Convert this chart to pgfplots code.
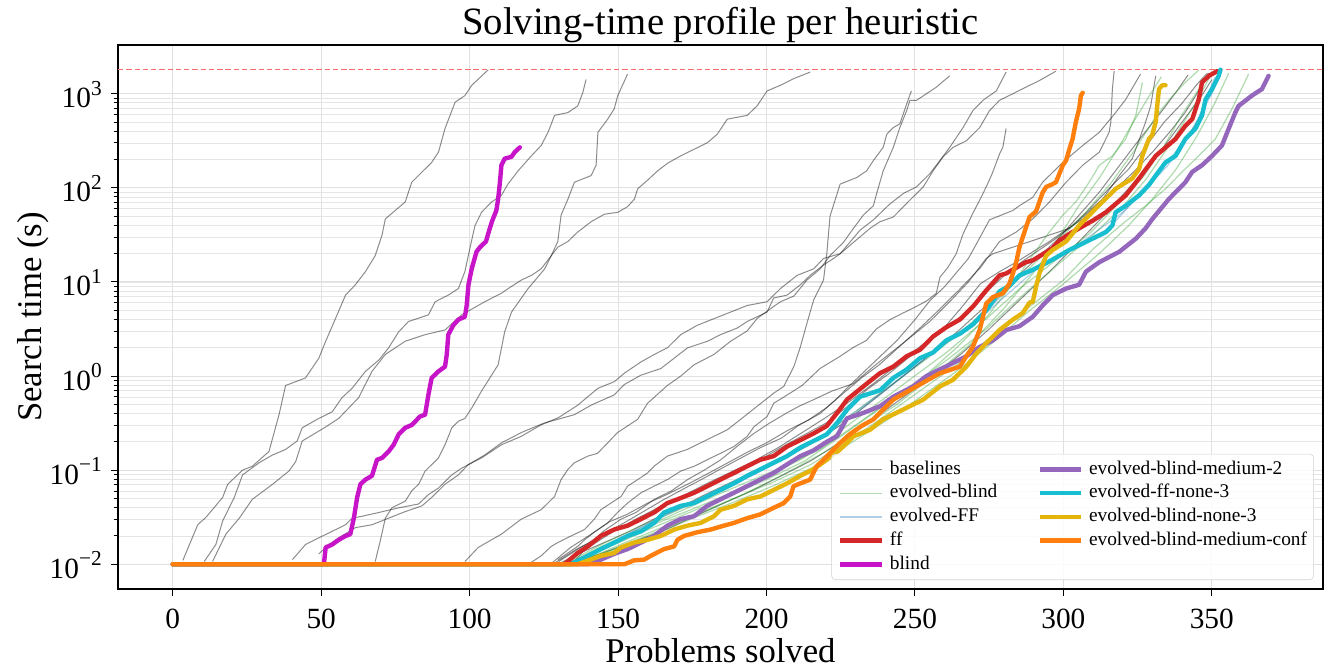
\documentclass[border=0pt]{standalone}
\usepackage{pgfplots}
\pgfplotsset{compat=1.18}
\usepackage{fontspec}
\setmainfont{Liberation Serif}
\definecolor{tabred}{HTML}{D62728}
\definecolor{tabgreen}{HTML}{2CA02C}
\definecolor{tabblue}{HTML}{1F77B4}
\definecolor{tabpurple}{HTML}{9467BD}
\definecolor{tabcyan}{HTML}{17BECF}
\definecolor{taborange}{HTML}{FF7F0E}
\definecolor{gold}{HTML}{E5B50C}
\definecolor{magentab}{HTML}{C814C8}
\definecolor{timeoutred}{RGB}{250,108,108}
\newcommand\sexp[1]{\raisebox{0.42em}{\fontsize{16pt}{16pt}\selectfont #1}}
\pgfplotsset{
 base/.style={forget plot, black, opacity=0.45, line width=0.75pt, line join=round},
 evb/.style={forget plot, tabgreen, opacity=0.38, line width=0.9pt, line join=round},
 evf/.style={forget plot, tabblue, opacity=0.35, line width=0.9pt, line join=round},
 thk/.style={forget plot, line width=3.3pt, line join=round, line cap=round},
}
\begin{document}
\begin{tikzpicture}
\path[use as bounding box] (-88.5pt,-60.75pt) rectangle (907.5pt,441.75pt);
\begin{axis}[
 at={(0pt,0pt)}, anchor=south west, scale only axis,
 width=903.75pt, height=408pt,
 xmin=-18.45, xmax=387.45, ymode=log, ymin=0.005461, ymax=3296,
 xtick={0,50,100,150,200,250,300,350},
 ytick={0.01,0.1,1,10,100,1000},
 yticklabels={10\sexp{−2},10\sexp{−1},10\sexp{0},10\sexp{1},10\sexp{2},10\sexp{3}},
 tick align=outside, tick pos=left,
 major tick length=5pt, minor tick length=3pt,
 every tick/.style={black, line width=0.7pt},
 grid=both,
 major grid style={gray!24, line width=0.7pt},
 minor grid style={gray!20, line width=0.6pt},
 axis line style={line width=0.9pt},
 tick label style={font=\fontsize{22pt}{22pt}\selectfont},
 /pgf/number format/assume math mode=true,
 xticklabel style={anchor=base, yshift=-24.75pt},
 yticklabel style={anchor=base east, inner sep=0pt, xshift=-7pt, yshift=-10.5pt},
 every axis title/.style={at={(axis description cs:0.5,1)}, anchor=base, yshift=7.5pt, font=\fontsize{29pt}{29pt}\selectfont},
 every axis x label/.style={at={(axis description cs:0.5,-0.1342)}, anchor=base, font=\fontsize{26pt}{26pt}\selectfont},
 every axis y label/.style={at={(axis description cs:-0.0631,0.5)}, rotate=90, anchor=base, font=\fontsize{26pt}{26pt}\selectfont},
 title={Solving-time profile per heuristic},
 xlabel={Problems solved},
 ylabel={Search time (s)},
 legend columns=2, legend cell align=left,
 legend image code/.code={\draw[#1] (0pt,0pt) -- (31pt,0pt);},
 legend style={at={(axis description cs:0.9925,0.0165)}, anchor=south east,
   draw=gray!35, rounded corners=3pt, fill=white, fill opacity=0.85, text opacity=1,
   font=\fontsize{14.5pt}{14.5pt}\selectfont, inner xsep=5pt, inner ysep=4pt,
   row sep=2.8pt,
   nodes={inner xsep=0pt, inner ysep=1pt, text height=10pt, text depth=3pt},
   /tikz/every odd column/.append style={column sep=4.5pt},
   /tikz/every even column/.append style={column sep=30pt}},
]
% ---------------- timeout line (drawn first, under the curves) ----------------
\addplot[forget plot, draw=timeoutred, mark=none, line width=1.1pt, dash pattern=on 4pt off 2.2pt] coordinates {(-18.45,1800) (387.45,1800)};
% ---------------- baselines ----------------
\addplot[base] coordinates {(3.4,0.0110) (8.4,0.0263) (11.2,0.0316) (16.8,0.0513) (18.5,0.0708) (23.5,0.100) (26.8,0.110) (32.4,0.158) (35.8,0.389) (38.0,0.794) (44.7,0.955) (49.2,1.549) (51.5,2.344) (54.8,4.074) (58.2,7.244) (61.5,9.333) (64.9,12.88) (68.2,19.05) (70.5,31.62) (71.6,46.77) (78.3,70.79) (80.5,114.8) (87.2,186.2) (89.5,239.9) (91.7,426.6) (95.1,812.8) (98.4,955) (100.7,1230) (106.3,1800)};
\addplot[base] coordinates {(10.6,0.0107) (14.5,0.0162) (16.8,0.0288) (20.7,0.0513) (23.5,0.0891) (29.1,0.120) (33.6,0.145) (38.0,0.166) (41.9,0.204) (43.6,0.282) (49.2,0.355) (53.7,0.417) (57.0,0.589) (60.4,0.741) (64.9,1.122) (69.4,1.479) (72.7,1.995) (76.1,2.951) (79.4,3.802) (86.1,4.467) (88.4,6.166) (92.8,7.244) (96.2,8.511) (98.4,12.88) (100.1,22.91) (101.8,39.81) (104.0,54.95) (107.4,70.79) (110.7,83.18) (112.9,109.6) (116.3,151.4) (120.8,218.8) (124.1,281.8) (126.4,389.0) (128.6,588.8) (133.1,631.0) (136.4,741.3) (138.1,1023) (139.2,1413)};
\addplot[base] coordinates {(13.4,0.0107) (15.7,0.0151) (17.9,0.0209) (22.4,0.0309) (26.8,0.0490) (33.6,0.0708) (39.1,0.0977) (41.4,0.123) (43.6,0.204) (51.5,0.288) (55.9,0.355) (62.6,0.589) (67.1,1.122) (71.6,1.698) (78.3,2.344) (85.0,2.754) (91.7,3.090) (97.3,4.467) (105.1,6.166) (110.7,7.586) (113.0,8.511) (117.4,10.47) (120.8,11.75) (124.1,13.80) (127.5,19.05) (129.7,23.44) (133.1,26.92) (136.4,33.88) (140.9,43.65) (145.4,52.48) (149.9,54.95) (153.2,63.10) (155.5,75.86) (156.6,97.72) (159.9,120.2) (163.3,151.4) (166.6,182.0) (171.1,218.8) (175.6,257.0) (180.1,302.0) (183.4,371.5) (186.8,537.0) (190.1,562.3) (193.5,588.8) (196.8,741.3) (200.2,1072) (204.7,1230) (209.1,1445) (214.7,1698)};
\addplot[base] coordinates {(68.2,0.0107) (69.9,0.0178) (71.6,0.0309) (73.8,0.0398) (78.3,0.0468) (80.5,0.0603) (82.8,0.0708) (85.0,0.0977) (89.5,0.135) (91.7,0.186) (94.0,0.282) (96.2,0.331) (98.4,0.355) (100.7,0.457) (104.0,0.692) (107.4,1.023) (109.6,1.318) (111.8,2.951) (114.1,4.786) (119.7,8.511) (125.3,13.80) (127.5,19.05) (129.7,26.92) (130.8,51.29) (133.1,75.86) (135.3,114.8) (140.9,134.9) (142.6,173.8) (143.2,389.0) (146.5,537.0) (148.7,691.8) (149.9,955) (153.2,1622)};
\addplot[base] coordinates {(40.3,0.0112) (44.7,0.0162) (49.2,0.0191) (53.7,0.0224) (58.2,0.0263) (60.4,0.0309) (63.8,0.0324) (69.4,0.0355) (76.1,0.0398) (82.8,0.0437) (86.1,0.0550) (89.5,0.0646) (94.0,0.0891) (97.3,0.105) (104.0,0.135) (110.7,0.186) (117.4,0.229) (124,0.302) (130,0.363) (136.4,0.490) (143.2,0.741) (148.7,0.871) (152.1,1.072) (157.7,1.413) (162.2,1.698) (166.6,1.995) (171.1,2.754) (176.7,3.467) (182.3,4.074) (187.9,4.786) (193.5,5.623) (200.2,6.166) (204.7,8.511) (210.3,11.75) (215.9,13.80) (219.2,17.78) (224.8,19.95) (230.4,28.18) (234.9,37.15) (238.2,43.65) (242.7,48.98) (248.3,74.13) (252.8,102.3) (256.1,151.4) (259.5,213.8) (262.8,269.2) (267.3,316.2) (271.8,436.5) (275.1,660.7) (278.5,851.1) (283.0,1000) (287.4,1175) (291.9,1380) (297.5,1738)};
\addplot[base] coordinates {(49.2,0.0129) (52.6,0.0162) (55.9,0.0191) (61.5,0.0245) (67.1,0.0263) (72.7,0.0309) (78.3,0.0363) (83.9,0.0417) (87.2,0.0513) (91.7,0.0708) (96.2,0.0891) (99.6,0.115) (105.1,0.145) (110.7,0.195) (117.4,0.251) (125,0.316) (135.3,0.389) (140.9,0.490) (148.7,0.631) (152.1,0.813) (157.7,1.023) (164.4,1.202) (168.9,1.549) (173.4,1.995) (180.1,2.344) (184.5,2.754) (190.1,3.236) (193.5,3.802) (200.2,4.786) (202.4,6.761) (206.9,7.244) (211.4,9.333) (214.7,11.75) (219.2,15.14) (222.6,17.78) (224.8,19.95) (231.5,35.48) (236.0,45.71) (241.6,67.61) (246.1,87.10) (250.5,102.3) (255.0,141.3) (258.4,195.0) (261.7,269.2) (266.2,436.5) (269.5,660.7) (272.9,851.1) (277.4,1072) (280.7,1698)};
\addplot[base] coordinates {(98.4,0.0107) (102.9,0.0151) (110.7,0.0209) (117.4,0.0302) (124.1,0.0380) (128.6,0.0525) (130.8,0.0794) (133.1,0.102) (135.3,0.120) (139.8,0.141) (143.1,0.151) (146.5,0.195) (149.8,0.251) (153.2,0.295) (156.6,0.347) (159.9,0.513) (166.6,0.794) (171.1,1.000) (175.6,1.318) (182.3,1.698) (187.9,2.344) (193.5,3.020) (196.8,4.074) (200.2,4.898) (204.7,6.166) (209.2,7.079) (213.6,10.47) (218.1,13.80) (221.4,19.05) (225.9,26.30) (229.3,37.15) (232.6,51.29) (236.0,64.57) (237.1,87.10) (239.3,151.4) (242.7,269.2) (244.9,436.5) (247.2,660.7) (248.3,851.1) (250.5,851.1) (253.9,1000) (257.2,1175) (261.7,1549)};
\addplot[base] coordinates {(120.8,0.0105) (124.1,0.0123) (127.5,0.0155) (129.7,0.0170) (134.2,0.0200) (138.7,0.0234) (142.0,0.0302) (144.2,0.0380) (147.6,0.0447) (151.0,0.0525) (153.2,0.0676) (156.6,0.0794) (159.9,0.0933) (162.1,0.110) (166.6,0.141) (173.3,0.166) (177.8,0.195) (182.3,0.229) (186.8,0.269) (191.3,0.347) (195.7,0.447) (202.5,0.661) (205.8,0.776) (209.2,1.259) (211.4,2.042) (213.6,3.631) (215.9,6.457) (219.2,10.47) (220.3,19.95) (221.4,50.12) (224.8,109.6) (230.4,128.8) (233.7,151.4) (236.0,195.0) (239.3,269.2) (240.5,371.5) (242.7,436.5) (244.9,478.6) (247.2,776.2) (248.8,1072)};
\addplot[base] coordinates {(129.7,0.0112) (133.1,0.0132) (136.4,0.0155) (138.7,0.0182) (142.0,0.0219) (146.5,0.0275) (149.8,0.0355) (153.2,0.0447) (157.7,0.0575) (162.1,0.0676) (166.6,0.0794) (171.1,0.0977) (175.6,0.110) (180.0,0.129) (184.5,0.151) (189.0,0.178) (193.5,0.229) (195.7,0.288) (200.2,0.372) (202.4,0.513) (206,0.603) (212,0.794) (218,1.202) (224.8,1.622) (229,1.995) (233.7,2.399) (237,3.162) (241.6,3.981) (246,4.677) (250.5,5.495) (254,6.310) (257.2,7.586) (258.4,11.22) (261,14.13) (263.9,19.95) (266.2,32.36) (269.5,53.70) (271.5,70.79) (274.0,102.3) (276,141.3) (278.5,229.1) (279.6,269.2) (280.7,426.6)};
\addplot[base] coordinates {(135,0.0105) (140,0.0158) (145,0.0224) (151,0.0302) (156,0.0355) (162.2,0.0490) (168,0.0603) (173.4,0.0794) (179,0.100) (184.6,0.129) (190,0.178) (195.7,0.245) (201,0.316) (206.9,0.407) (211,0.479) (215.9,0.562) (222,0.692) (229.3,0.832) (236,1.259) (242,1.778) (248,2.512) (255,3.802) (262,6.310) (268,10.0) (274,17.78) (276.3,19.95) (283,23.44) (289.7,27.54) (296.4,32.36) (302,37.15) (308,56.23) (315,95.50) (322,158.5) (328,281.8) (334,501.2) (340,794.3) (345,1259) (348.5,1660)};
\addplot[base] coordinates {(128,0.0105) (134,0.0151) (140,0.0200) (147,0.0282) (153,0.0339) (160,0.0447) (167,0.0562) (174,0.0724) (180,0.0912) (187,0.120) (194,0.158) (200,0.195) (207,0.263) (214,0.339) (220,0.457) (226,0.661) (232,0.955) (238,1.318) (245,2.089) (252,3.311) (258,5.012) (265,8.318) (272,14.13) (278.5,26.92) (284.1,33.88) (289.7,46.77) (295.3,70.79) (300.9,114.8) (306.5,173.8) (312.1,239.9) (315.4,389.0) (316.0,501.2) (316.5,1122) (317.1,1738)};
\addplot[base] coordinates {(130,0.0107) (137,0.0148) (145,0.0209) (152,0.0275) (158,0.0355) (165,0.0479) (172,0.0631) (178,0.0794) (185,0.105) (192,0.138) (198,0.174) (205,0.219) (211,0.302) (218,0.398) (223,0.550) (228,0.794) (233,1.122) (238,1.585) (244,2.399) (250,3.981) (255,6.310) (260,8.913) (264,12.59) (268,17.78) (271.5,28.18) (275.1,45.71) (283.0,57.54) (285.2,64.57) (289.7,79.43) (293.0,114.8) (299.8,186.2) (306.5,281.8) (312.1,389.0) (317.6,631.0) (321.0,871.0) (326.0,1622)};
\addplot[base] coordinates {(133,0.0107) (140,0.0151) (148,0.0219) (156,0.0302) (164,0.0407) (172,0.0537) (180,0.0724) (188,0.0955) (196,0.126) (204,0.174) (212,0.251) (220,0.363) (228,0.537) (236,0.832) (244,1.318) (252,2.089) (260,3.311) (266,5.495) (272,9.550) (278.5,12.88) (284.1,16.22) (289.7,20.89) (295.3,26.92) (299.8,33.88) (306.5,46.77) (313.2,75.86) (318.8,134.9) (323.2,204.2) (327.7,501.2) (329.4,741.3) (331.1,1549)};
\addplot[base] coordinates {(129,0.0105) (136,0.0145) (143,0.0186) (150,0.0240) (157,0.0302) (164,0.0389) (171,0.0513) (178,0.0631) (185,0.0832) (192,0.105) (199,0.135) (206,0.182) (213,0.240) (220,0.316) (227,0.468) (234,0.724) (241,1.047) (248,1.585) (255,2.399) (262,3.548) (269,5.248) (276,8.913) (283,14.13) (290,19.95) (297,28.18) (304,41.69) (311,66.07) (318,100.0) (324,151.4) (330,239.9) (336,398.1) (341,631.0) (345,1000) (349,1660)};
\addplot[base] coordinates {(131,0.0105) (138,0.0135) (146,0.0174) (154,0.0224) (162,0.0302) (170,0.0389) (178,0.0525) (186,0.0692) (194,0.0912) (202,0.120) (210,0.158) (218,0.219) (226,0.316) (234,0.501) (242,0.794) (250,1.259) (258,1.995) (266,3.311) (274,5.623) (282,9.550) (290,16.60) (298,28.18) (305,50.12) (312,89.13) (318,158.5) (324,281.8) (329,446.7) (334,707.9) (338,1047) (342,1585)};
\addplot[base] coordinates {(135,0.0105) (145,0.0132) (155,0.0174) (165,0.0224) (175,0.0316) (185,0.0437) (195,0.0603) (205,0.0871) (215,0.126) (225,0.200) (235,0.331) (245,0.562) (255,0.955) (265,1.660) (275,3.162) (285,6.310) (295,12.59) (305,26.30) (315,56.23) (325,125.9) (333,251.2) (340,501.2) (346,891.3) (350,1413)};
% ---------------- evolved-blind ----------------
\addplot[evb] coordinates {(134,0.0105) (145,0.0158) (158,0.0240) (170,0.0355) (182,0.0525) (194,0.0759) (206,0.110) (218,0.166) (230,0.302) (242,0.562) (254,1.047) (264,1.995) (274,4.169) (283,9.550) (290,19.95) (295,33.11) (299.8,51.29) (304.2,70.79) (308.7,114.8) (312.1,173.8) (316.5,218.8) (321.0,331.1) (324.4,588.8) (326.6,1318)};
\addplot[evb] coordinates {(137,0.0105) (150,0.0158) (163,0.0234) (176,0.0339) (189,0.0501) (202,0.0741) (215,0.115) (228,0.209) (240,0.380) (252,0.708) (264,1.318) (276,2.630) (288,5.248) (300,10.47) (310,22.39) (320,41.69) (327.7,64.57) (334.4,97.72) (340.0,147.9) (345.6,218.8) (351.2,331.1) (356.8,691.8) (362.4,1622)};
\addplot[evb] coordinates {(133,0.0105) (145,0.0166) (157,0.0251) (169,0.0363) (181,0.0550) (193,0.0832) (205,0.126) (217,0.209) (229,0.398) (241,0.759) (253,1.445) (265,2.818) (277,6.310) (287,12.59) (297,25.12) (307,52.48) (316,112.2) (324,251.2) (331,562.3) (336,891.3) (341,1318) (345.6,1778)};
\addplot[evb] coordinates {(135,0.0105) (148,0.0158) (161,0.0240) (174,0.0355) (187,0.0525) (200,0.0794) (213,0.126) (226,0.240) (238,0.447) (250,0.832) (262,1.585) (274,3.162) (286,7.079) (298,15.14) (310,31.62) (320,63.10) (328,125.9) (335,263.0) (341,524.8) (346,955) (350,1660)};
\addplot[evb] coordinates {(137,0.0105) (150,0.0148) (163,0.0214) (176,0.0316) (189,0.0457) (202,0.0676) (215,0.105) (228,0.191) (240,0.331) (252,0.603) (264,1.122) (276,2.239) (288,4.786) (300,9.550) (312,19.95) (322,39.81) (330,75.86) (338,158.5) (345,354.8) (351,794.3) (355.7,1660)};
\addplot[evb] coordinates {(134,0.0105) (147,0.0162) (160,0.0251) (173,0.0363) (186,0.0537) (199,0.0832) (212,0.132) (225,0.263) (237,0.501) (249,0.955) (261,1.820) (273,3.802) (285,8.318) (297,16.60) (309,33.11) (319,70.79) (327,131.8) (334,281.8) (340,602.6) (345,1047) (349,1585)};
\addplot[evb] coordinates {(136,0.0105) (150,0.0151) (164,0.0229) (178,0.0347) (192,0.0550) (206,0.0912) (220,0.158) (232,0.282) (244,0.501) (256,1.000) (268,2.089) (280,5.248) (290,12.59) (298,28.18) (305,63.10) (312,125.9) (318,251.2) (324,524.8) (329,955) (333,1514)};
% ---------------- evolved-FF ----------------
\addplot[evf] coordinates {(134,0.0105) (150,0.0182) (165,0.0331) (180,0.0525) (195,0.0891) (210,0.158) (225,0.300) (240,0.700) (255,1.700) (270,3.600) (285,11.0) (300,20.0) (315,36.0) (330,120) (342,350) (350,1000) (353,1700)};
\addplot[evf] coordinates {(135,0.0105) (152,0.0200) (168,0.0355) (185,0.0600) (200,0.105) (215,0.190) (230,0.420) (245,0.950) (260,2.20) (275,5.00) (290,13.0) (305,25.0) (320,55.0) (335,170) (345,500) (351,1500)};
% ---------------- ff ----------------
\addplot[thk, tabred] coordinates {(0,0.01) (131.9,0.01) (136.4,0.0132) (139.8,0.0155) (144.2,0.0200) (148.7,0.0234) (153.2,0.0257) (157.7,0.0302) (162.1,0.0355) (166.6,0.0447) (170.0,0.0490) (175.6,0.0575) (180.1,0.0676) (184.5,0.0794) (189.0,0.0933) (193.5,0.110) (197.9,0.129) (202.4,0.141) (206.9,0.178) (211.4,0.209) (215.8,0.245) (220.3,0.295) (224.8,0.447) (227.1,0.562) (233.8,0.832) (238.2,1.072) (242.7,1.259) (247.2,1.622) (251.7,1.905) (256.1,2.630) (260.6,3.311) (265.1,3.981) (269.6,5.495) (274.0,8.128) (278.5,11.75) (280.7,12.30) (287.4,16.22) (289.7,16.98) (296.4,22.91) (298.6,27.54) (302.0,32.36) (305.3,37.15) (309.8,44.67) (314.3,54.95) (321.0,83.18) (325.5,125.9) (331.1,218.8) (337.8,331.1) (341.1,457.1) (343.4,537.0) (345.6,871.0) (346.7,1318) (349.0,1549) (351.8,1738)};
% ---------------- blind ----------------
\addplot[thk, magentab] coordinates {(0,0.01) (50.9,0.01) (51.5,0.0151) (53.7,0.0162) (55.9,0.0182) (58.2,0.0200) (59.8,0.0209) (61.0,0.0309) (62.1,0.0513) (63.2,0.0708) (64.9,0.0794) (67.1,0.0871) (68.8,0.129) (70.5,0.135) (72.7,0.158) (74.4,0.186) (76.1,0.240) (78.3,0.282) (80.5,0.302) (83.3,0.372) (85.0,0.389) (86.1,0.631) (87.2,0.955) (89.5,1.122) (91.7,1.259) (92.3,1.698) (92.8,2.754) (94.5,3.467) (96.2,3.981) (98.4,4.266) (99.0,5.623) (99.6,9.333) (100.7,13.80) (102.3,20.89) (103.5,23.44) (105.5,26.92) (106.6,35.48) (107.6,44.67) (109.0,57.54) (109.6,75.86) (110.2,114.8) (110.7,173.8) (111.8,204.2) (114.1,213.8) (115.2,239.9) (116.9,269.2)};
% ---------------- evolved-blind-medium-2 ----------------
\addplot[thk, tabpurple] coordinates {(0,0.01) (139.8,0.01) (144.2,0.0112) (148.7,0.0129) (153.2,0.0145) (157.7,0.0170) (162.1,0.0200) (166.6,0.0257) (171.1,0.0302) (175.6,0.0324) (180.0,0.0417) (184.5,0.0490) (189.0,0.0575) (193.5,0.0676) (197.9,0.0794) (202.4,0.0933) (206.9,0.115) (211.4,0.141) (215.8,0.162) (220.3,0.200) (223.7,0.229) (227.1,0.355) (232.7,0.407) (238.3,0.479) (242.7,0.603) (249.4,0.776) (253.9,1.000) (258.4,1.175) (262.9,1.380) (267.3,1.622) (271.8,2.042) (276.3,2.399) (280.8,3.090) (285.2,3.388) (289.7,4.266) (293.0,5.623) (296.4,7.244) (300.9,8.511) (305.3,9.333) (307.6,12.88) (312.1,16.22) (318.8,20.89) (324.4,28.84) (327.7,37.15) (330.0,46.77) (335.5,75.86) (341.1,114.8) (343.4,147.9) (346.7,173.8) (350.1,218.8) (353.4,281.8) (355.7,426.6) (357.9,631.0) (359.0,741.3) (363.5,955) (366.9,1122) (369.1,1549)};
% ---------------- evolved-ff-none-3 ----------------
\addplot[thk, tabcyan] coordinates {(0,0.01) (134.2,0.01) (139.8,0.0123) (144.2,0.0145) (148.7,0.0170) (153.2,0.0200) (157.7,0.0224) (162.1,0.0275) (165.5,0.0355) (171.1,0.0417) (175.6,0.0447) (180.0,0.0525) (184.5,0.0617) (189.0,0.0724) (193.5,0.0871) (197.9,0.102) (202.4,0.120) (206.9,0.141) (211.4,0.174) (215.8,0.204) (220.3,0.240) (223.7,0.316) (227.1,0.437) (231.5,0.603) (238.3,0.708) (242.7,0.955) (247.2,1.175) (251.7,1.549) (256.1,1.778) (260.6,2.399) (265.1,2.818) (269.6,3.548) (274.1,5.012) (278.5,7.943) (281.9,9.120) (285.2,11.75) (289.7,13.49) (294.2,15.85) (298.7,19.05) (302.0,21.88) (305.3,24.55) (309.8,28.84) (314.3,33.88) (316.5,39.81) (317.6,54.95) (321.0,64.57) (325.5,83.18) (328.8,107.2) (331.1,134.9) (334.4,186.2) (337.8,218.8) (341.1,331.1) (344.5,426.6) (346.7,588.8) (347.9,871.0) (350.1,1122) (352.3,1549) (352.9,1800)};
% ---------------- evolved-blind-none-3 ----------------
\addplot[thk, gold] coordinates {(0,0.01) (136.4,0.01) (144.2,0.0123) (148.7,0.0132) (151.0,0.0151) (155.4,0.0170) (159.9,0.0182) (164.4,0.0200) (168.9,0.0234) (173.3,0.0257) (177.8,0.0275) (182.3,0.0324) (184.5,0.0380) (189.0,0.0417) (193.5,0.0490) (197.9,0.0525) (202.4,0.0617) (206.9,0.0724) (211.4,0.0871) (215.8,0.102) (220.3,0.129) (224.8,0.166) (229.3,0.229) (234.9,0.269) (239.3,0.347) (243.8,0.407) (248.3,0.479) (252.8,0.562) (258.4,0.776) (262.8,0.912) (267.3,1.259) (270.7,1.738) (274.0,2.239) (278.5,3.090) (283.0,3.981) (286.3,4.677) (288.6,6.026) (289.7,6.166) (290.8,8.913) (292.0,12.59) (294.2,19.05) (296.4,21.88) (300.9,26.92) (305.3,39.81) (310.9,60.26) (317.6,97.72) (323.2,125.9) (325.5,158.5) (326.6,218.8) (328.8,331.1) (329.9,363.1) (331.1,501.2) (331.6,741.3) (332.2,1122) (333.3,1230) (334.4,1230)};
% ---------------- evolved-blind-medium-conf ----------------
\addplot[thk, taborange] coordinates {(0,0.01) (152.1,0.01) (155.4,0.0110) (158.8,0.0112) (161.0,0.0123) (165.5,0.0145) (168.9,0.0155) (170.0,0.0182) (172.2,0.0200) (176.7,0.0219) (181.2,0.0234) (185.6,0.0257) (189.0,0.0275) (193.5,0.0309) (197.9,0.0339) (202.4,0.0398) (205.8,0.0447) (208.0,0.0525) (209.1,0.0676) (211.4,0.0724) (214.7,0.0794) (216.9,0.110) (219.2,0.129) (222.6,0.166) (224.8,0.195) (228,0.240) (232,0.295) (236.0,0.347) (242.7,0.562) (250.5,0.776) (258.4,1.072) (265.1,1.259) (267.3,1.622) (269.5,2.042) (271.8,3.090) (274.0,5.888) (276.3,6.918) (279.6,7.586) (281.8,9.550) (283.0,12.30) (284.1,16.22) (285.2,23.44) (287.4,38.02) (288.6,48.98) (290.8,56.23) (293.0,89.13) (294.2,102.3) (296.4,109.6) (297.5,114.8) (299.8,173.8) (300.9,195.0) (302.0,257.0) (303.1,331.1) (304.2,501.2) (305.3,691.8) (305.9,955) (306.5,1023)};
% ---------------- legend ----------------
\addlegendimage{black, opacity=0.45, line width=1pt}
\addlegendentry{baselines}
\addlegendimage{tabpurple, line width=3.3pt}
\addlegendentry{evolved-blind-medium-2}
\addlegendimage{tabgreen, opacity=0.38, line width=1pt}
\addlegendentry{evolved-blind}
\addlegendimage{tabcyan, line width=3.3pt}
\addlegendentry{evolved-ff-none-3}
\addlegendimage{tabblue, opacity=0.35, line width=1pt}
\addlegendentry{evolved-FF}
\addlegendimage{gold, line width=3.3pt}
\addlegendentry{evolved-blind-none-3}
\addlegendimage{tabred, line width=3.3pt}
\addlegendentry{ff}
\addlegendimage{taborange, line width=3.3pt}
\addlegendentry{evolved-blind-medium-conf}
\addlegendimage{magentab, line width=3.3pt}
\addlegendentry{blind}
\end{axis}
\end{tikzpicture}
\end{document}
